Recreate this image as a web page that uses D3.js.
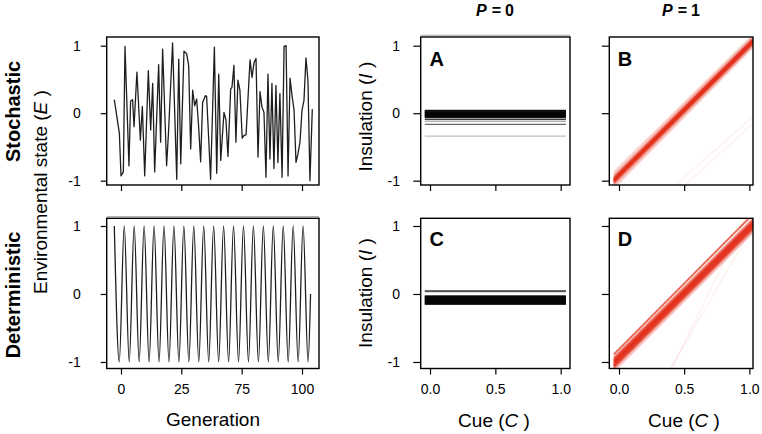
<!DOCTYPE html>
<html><head><meta charset="utf-8">
<script src="https://cdn.jsdelivr.net/npm/d3@7"></script>
<style>body{margin:0;background:#fff}svg{display:block}</style>
</head><body><svg id="c" width="762" height="434"></svg>
<script>
// ---------------- DATA ----------------
// Stochastic environment (generation, E)
const stochGen = [-3.7,-0.9,0,1.3,2.2,4.4,5.3,6.4,7.2,8.8,10.7,11.8,13.1,15.1,16.4,17.5,18.6,20.8,21.9,23.0,25.2,26.3,28.5,30.8,31.9,33.0,34.8,36.3,37.4,38.5,39.6,40.7,41.8,42.9,44.0,45.1,46.6,47.3,48.4,49.5,51.6,52.9,54.0,55.1,56.9,58.0,59.1,60.6,61.3,62.4,63.5,64.6,65.7,67.0,68.0,69.1,71.3,72.4,73.5,74.6,75.7,76.8,77.9,79.0,80.1,81.2,82.3,83.4,84.5,85.6,86.7,87.8,89.0,90.1,91.2,92.3,93.4,94.5,95.6,96.7,97.8,98.9,100.0,101.1,102.2,103.3,104.4,105.7];
const stochE = [0.2,-0.3,-0.93,-0.87,0.99,-0.78,0.18,0.2,-0.2,0.61,-0.4,0.1,-0.93,0.63,-0.25,0.44,-0.87,0.72,-0.43,0.95,-0.78,-0.26,1.04,-0.98,0.8,-0.75,0.92,0.88,0.7,-0.53,0.34,0.11,0.21,-0.2,-0.72,0.16,0.26,0.25,-0.35,-0.98,0.98,-0.89,0.58,-0.7,0.01,-0.1,-0.64,0.36,0.38,0.71,-0.43,0.49,0.34,-0.37,-0.33,-0.32,0.79,0.53,0.75,0.81,-0.65,0.32,0.09,0.01,-0.95,0.58,-0.68,0.44,-0.82,0.41,-0.73,0.29,-0.95,0.99,1.0,-0.93,0.52,0.26,0.05,-0.73,-0.6,-0.43,0.04,0.19,0.82,0.48,-1.0,0.06];
// Deterministic environment: peaks and troughs (generation, E)
const detGen = [-3.70,-0.96,1.79,4.54,7.28,10.03,12.77,15.52,18.26,21.01,23.75,26.50,29.24,31.99,34.73,37.48,40.22,42.97,45.71,48.46,51.20,53.95,56.69,59.44,62.18,64.93,67.67,70.42,73.16,75.91,78.65,81.40,84.14,86.89,89.63,92.38,95.12,97.87,100.61,103.36,104.73];
const detE = [1,-1,1,-1,1,-1,1,-1,1,-1,1,-1,1,-1,1,-1,1,-1,1,-1,1,-1,1,-1,1,-1,1,-1,1,-1,1,-1,1,-1,1,-1,1,-1,1,-1,0];
const genTicks = [0, 33.33, 66.67, 100];
const genTickLabels = ["0", "25", "75", "100"];
const eTicks = [-1, 0, 1];
const cueTicks = [0, 0.5, 1];
const cueTickLabels = ["0.0", "0.5", "1.0"];
const cueRange = [-0.04, 1.04];
// Panel A (stochastic, P=0): flat reaction norms, I level and opacity
const aLevels = [0.04,0.03,0.02,0.01,0,-0.01,-0.02,-0.03,-0.04,-0.05,-0.06,-0.09,-0.12,-0.165,-0.34];
const aAlpha  = [0.9,0.9,0.9,0.9,0.9,0.9,0.9,0.9,0.9,0.9,0.9,0.75,0.3,0.6,0.25];
// Panel C (deterministic, P=0)
const cLevels = [0.05,0.035,-0.03,-0.04,-0.05,-0.06,-0.07,-0.08,-0.09,-0.10,-0.11,-0.12,-0.13,-0.14,-0.15];
const cAlpha  = [0.6,0.6,0.9,0.9,0.9,0.9,0.9,0.9,0.9,0.9,0.9,0.9,0.9,0.9,0.8];
// Panel B (stochastic, P=1): reaction norms I = a + b*C
const bIntercept = [-1.04,-1.01,-0.98,-0.96,-0.94,-0.93,-0.92,-0.91,-0.90,-0.89,-0.87,-0.85,-0.82,-0.79,-1.8,-1.95];
const bSlope     = [1.96,1.95,1.94,1.94,1.93,1.93,1.93,1.93,1.93,1.93,1.92,1.92,1.91,1.9,1.7,1.75];
const bAlpha     = [0.15,0.25,0.4,0.6,0.75,0.85,0.85,0.85,0.8,0.65,0.5,0.35,0.22,0.14,0.06,0.05];
// Panel D (deterministic, P=1)
const dIntercept = [-1.07,-1.04,-1.01,-0.99,-0.97,-0.95,-0.93,-0.92,-0.90,-0.88,-0.86,-0.84,-0.81,-2.67,-2.4];
const dSlope     = [1.92,1.91,1.91,1.91,1.91,1.91,1.91,1.91,1.91,1.91,1.91,1.91,1.93,3.9,3.3];
const dAlpha     = [0.18,0.35,0.65,0.85,0.9,0.9,0.9,0.9,0.85,0.65,0.4,0.18,0.75,0.06,0.06];

// ---------------- DRAWING ----------------
const FONT = '"Liberation Sans", Arial, Helvetica, sans-serif';
const RED = "#e2301c";
const svg = d3.select("#c");

function makePanel(id, x0, x1, y0, y1, xDomain, yDomain) {
  const x = d3.scaleLinear().domain(xDomain).range([x0, x1]);
  const y = d3.scaleLinear().domain(yDomain).range([y1, y0]);
  svg.append("clipPath").attr("id", id).append("rect")
    .attr("x", x0).attr("y", y0).attr("width", x1 - x0).attr("height", y1 - y0);
  const g = svg.append("g").attr("clip-path", `url(#${id})`);
  return {x, y, g, x0, x1, y0, y1};
}
function frame(p) {
  svg.append("rect").attr("x", p.x0).attr("y", p.y0).attr("width", p.x1 - p.x0).attr("height", p.y1 - p.y0)
    .attr("fill", "none").attr("stroke", "#000").attr("stroke-width", 1.4);
}
function styleAxis(ax) {
  ax.select(".domain").remove();
  ax.selectAll("text").attr("font-size", 14).attr("font-family", FONT).attr("fill", "#000");
  ax.selectAll("line").attr("stroke", "#000").attr("stroke-width", 1.2);
}
function yAxis(p, labels, size, pad) {
  const ax = svg.append("g").attr("transform", `translate(${p.x0},0)`)
    .call(d3.axisLeft(p.y).tickValues(eTicks).tickSize(size).tickPadding(pad)
      .tickFormat(labels ? (d => String(d)) : () => ""));
  styleAxis(ax);
}
function xAxis(p, vals, labelArr, show) {
  const ax = svg.append("g").attr("transform", `translate(0,${p.y1})`)
    .call(d3.axisBottom(p.x).tickValues(vals).tickSize(6).tickPadding(9.6)
      .tickFormat(show ? ((d, i) => labelArr[i]) : () => ""));
  styleAxis(ax);
}
function text(str, x, y, opts = {}) {
  const t = svg.append("text").attr("x", x).attr("y", y)
    .attr("font-family", FONT).attr("font-size", opts.size || 19)
    .attr("font-weight", opts.weight || "normal")
    .attr("text-anchor", opts.anchor || "middle").attr("fill", "#000");
  if (str) t.text(str);
  if (opts.rotate) t.attr("transform", `rotate(-90,${x},${y})`);
  return t;
}

// ---- Left column: environment time series ----
const genDomain = [-7.9, 109.4];
const topY = [-1.064, 1.129], botY = [-1.096, 1.113];
const pS = makePanel("cs", 106.7, 319, 37, 185, genDomain, topY);
const pD = makePanel("cd", 106.7, 319, 218.3, 368.5, genDomain, botY);

pS.g.append("path").datum(stochGen.map((g, i) => [g, stochE[i]]))
  .attr("d", d3.line().x(d => pS.x(d[0])).y(d => pS.y(d[1])))
  .attr("fill", "none").attr("stroke", "#1e1e1e").attr("stroke-width", 1.3).attr("stroke-linejoin", "round");
pD.g.append("path").datum(detGen.map((g, i) => [g, detE[i]]))
  .attr("d", d3.line().curve(d3.curveMonotoneX).x(d => pD.x(d[0])).y(d => pD.y(d[1])))
  .attr("fill", "none").attr("stroke", "#1e1e1e").attr("stroke-width", 1.3);

// ---- Reaction norm panels ----
const pA = makePanel("ca", 420.7, 570, 37, 185, [-0.0712, 1.0712], topY);
const pC = makePanel("cc", 420.7, 570, 218.3, 368.5, [-0.0712, 1.0712], botY);
const pB = makePanel("cb", 609.3, 753, 37, 185, [-0.0744, 1.028], topY);
const pDD = makePanel("cdd", 609.3, 753, 218.3, 368.5, [-0.0744, 1.028], botY);

function flat(p, levels, alpha, sw) {
  p.g.selectAll(null).data(levels).enter().append("line")
    .attr("x1", p.x(cueRange[0])).attr("x2", p.x(cueRange[1]))
    .attr("y1", d => p.y(d)).attr("y2", d => p.y(d))
    .attr("stroke", "#000").attr("stroke-width", sw).attr("stroke-opacity", (d, i) => alpha[i]);
}
flat(pA, aLevels, aAlpha, 1.4);
flat(pC, cLevels, cAlpha, 1.4);

function slanted(p, ints, slopes, alpha) {
  p.g.selectAll(null).data(ints).enter().append("line")
    .attr("x1", p.x(cueRange[0])).attr("x2", p.x(cueRange[1]))
    .attr("y1", (d, i) => p.y(d + slopes[i] * cueRange[0]))
    .attr("y2", (d, i) => p.y(d + slopes[i] * cueRange[1]))
    .attr("stroke", RED).attr("stroke-width", 1.8).attr("stroke-opacity", (d, i) => alpha[i]);
}
slanted(pB, bIntercept, bSlope, bAlpha);
slanted(pDD, dIntercept, dSlope, dAlpha);

// faint top edge lines (as in the reference)
svg.append("line").attr("x1", 106.7).attr("x2", 319).attr("y1", 216.6).attr("y2", 216.6).attr("stroke", "#aaa").attr("stroke-width", 1);
svg.append("line").attr("x1", 420.7).attr("x2", 570).attr("y1", 35.3).attr("y2", 35.3).attr("stroke", "#aaa").attr("stroke-width", 1);

[pS, pD, pA, pC, pB, pDD].forEach(frame);

// Axes
yAxis(pS, true, 6, 20);
yAxis(pD, true, 6, 20);
yAxis(pA, true, 7.4, 13.3);
yAxis(pC, true, 7.4, 13.3);
yAxis(pB, false, 7.4, 13.3);
yAxis(pDD, false, 7.4, 13.3);
xAxis(pS, genTicks, genTickLabels, false);
xAxis(pD, genTicks, genTickLabels, true);
xAxis(pA, cueTicks, cueTickLabels, false);
xAxis(pC, cueTicks, cueTickLabels, true);
xAxis(pB, cueTicks, cueTickLabels, false);
xAxis(pDD, cueTicks, cueTickLabels, true);

// ---- Texts ----
function pTitle(x, val) {
  const t = text("", x, 15.5, {size: 16, weight: "bold"});
  t.append("tspan").attr("font-style", "italic").text("P");
  t.append("tspan").attr("dx", 5).text("=");
  t.append("tspan").attr("dx", 4).text(val);
}
pTitle(495, "0");
pTitle(681, "1");

text("A", 429.5, 65.5, {size: 20, weight: "bold", anchor: "start"});
text("B", 617.8, 65.5, {size: 20, weight: "bold", anchor: "start"});
text("C", 429.5, 245.5, {size: 20, weight: "bold", anchor: "start"});
text("D", 617.8, 245.5, {size: 20, weight: "bold", anchor: "start"});

function ins(y) {
  const t = text("", 372, y, {rotate: true});
  t.append("tspan").text("Insulation (");
  t.append("tspan").attr("font-style", "italic").text("I");
  t.append("tspan").text(" )");
}
ins(116.7);
ins(293);

const env = text("", 46.5, 192, {rotate: true});
env.append("tspan").text("Environmental state (");
env.append("tspan").attr("font-style", "italic").text("E");
env.append("tspan").text(" )");

text("Stochastic", 20, 111.5, {rotate: true, weight: "bold", size: 20});
text("Deterministic", 20, 295, {rotate: true, weight: "bold", size: 20});

text("Generation", 213, 426);
function cue(x) {
  const t = text("", x, 427);
  t.append("tspan").text("Cue (");
  t.append("tspan").attr("font-style", "italic").text("C");
  t.append("tspan").text(" )");
}
cue(494);
cue(684);
</script></body></html>
